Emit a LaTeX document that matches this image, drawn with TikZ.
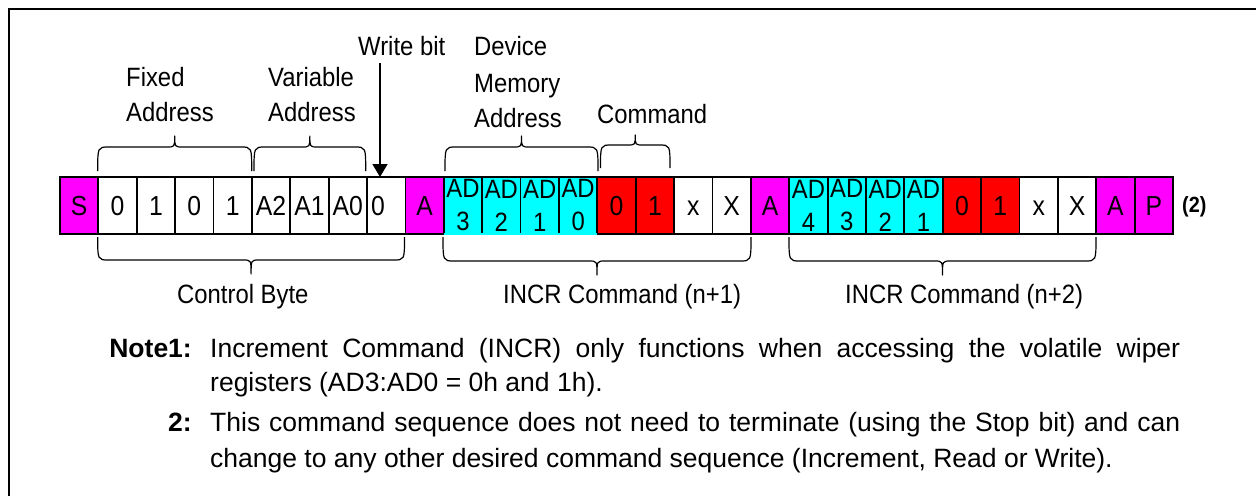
\documentclass[tikz,border=0pt]{standalone}
\usepackage{fontspec}
\setmainfont{Liberation Sans}
\newfontfamily\labfont{Liberation Sans}[FakeStretch=0.9]
\usetikzlibrary{arrows.meta}
\definecolor{mag}{RGB}{255,0,255}
\definecolor{cyn}{RGB}{0,255,255}
\definecolor{rd}{RGB}{255,0,0}
\newcommand\mybrace[5]{% x1 x2 yend yline ytip
  \draw[bracestyle] (#1,#3) .. controls (#1,#4) .. ({#1+11},#4) -- ({(#1+#2)/2-8},#4)
    .. controls ({(#1+#2)/2},#4) .. ({(#1+#2)/2},#5)
    .. controls ({(#1+#2)/2},#4) .. ({(#1+#2)/2+8},#4) -- ({#2-11},#4)
    .. controls (#2,#4) .. (#2,#3);}
\begin{document}
\begin{tikzpicture}[x=1pt,y=-1pt,
  cellbase/.style={draw=black, line width=1.8pt, minimum width=38.38pt, minimum height=57pt,
    inner sep=0pt, outer sep=0pt, anchor=north west},
  cell/.style={cellbase, font=\labfont\fontsize{27.5}{33}\selectfont, text height=19.5pt, text depth=0pt},
  mcell/.style={cell, fill=mag},
  rcell/.style={cell, fill=rd},
  wcell/.style={cell, text width=30pt, align=left},
  adcell/.style={cellbase, fill=cyn, align=center, font=\labfont\fontsize{26.5}{33}\selectfont},
  lab/.style={font=\labfont\fontsize{26.5}{31.8}\selectfont, inner sep=0pt, anchor=base west},
  note/.style={font=\fontsize{26.5}{31.8}\selectfont, inner sep=0pt, anchor=base west},
  notehead/.style={font=\bfseries\fontsize{26.5}{31.8}\selectfont, inner sep=0pt, anchor=base east},
  bracestyle/.style={line width=1.2pt, line join=round},
  wbarrow/.style={line width=1.5pt, -{Triangle[width=15pt,length=13pt]}}
]
\useasboundingbox (0,0) rectangle (1256,496);
% frame
\draw[line width=2pt] (9,496) -- (9,9) -- (1256,9);
% cells
\foreach \i/\t/\s in {0/S/mcell,1/0/cell,2/1/cell,3/0/cell,4/1/cell,5/A2/cell,6/A1/cell,7/A0/cell,
  8/0/wcell,9/A/mcell,14/0/rcell,15/1/rcell,16/x/cell,17/X/cell,18/A/mcell,
  23/0/rcell,24/1/rcell,25/x/cell,26/X/cell,27/A/mcell,28/P/mcell}
  \node[\s] (c\i) at ({60+\i*38.38},177) {\t};
\foreach \i/\d in {10/3,11/2,12/1,13/0,19/4,20/3,21/2,22/1}
  \node[adcell] (c\i) at ({60+\i*38.38},177) {AD\\\d};
\draw[cyn, line width=1.8pt] (c10.south west) -- (c13.south east);
% (2)
\node[font=\labfont\bfseries\fontsize{22}{26}\selectfont, inner sep=0pt, anchor=base west] (n2) at (1182,212) {(2)};
% top labels
\node[lab] (fx1) at (126,86) {Fixed};
\node[lab] (fx2) at (126,121) {Address};
\node[lab] (va1) at (268,86) {Variable};
\node[lab] (va2) at (268,121) {Address};
\node[lab] (wb) at (358,55) {Write bit};
\node[lab] (dm1) at (474,55) {Device};
\node[lab] (dm2) at (474,92) {Memory};
\node[lab] (dm3) at (474,127) {Address};
\node[lab] (cm) at (597,123) {Command};
% bottom labels
\node[lab] (cb) at (177,303) {Control Byte};
\node[lab] (ic1) at (503,303) {INCR Command (n+1)};
\node[lab] (ic2) at (845,303) {INCR Command (n+2)};
% write bit arrow
\coordinate (wtop) at (380,63);
\draw[wbarrow] (wtop) -- (wtop |- c8.north);
% braces
\mybrace{97.7}{251.7}{171}{147}{136}
\mybrace{254}{365.7}{171}{147}{136}
\mybrace{445}{598}{171}{147}{136}
\mybrace{600.5}{670}{168}{145}{135}
\mybrace{97.7}{404.5}{237}{260}{274}
\mybrace{443}{751}{237}{261}{275}
\mybrace{789}{1096}{237}{261}{275}
% notes
\node[notehead] (nh1) at (192,357) {Note1:};
\node[note] (n1a) at (210,357) {\makebox[970pt][s]{Increment Command (INCR) only functions when accessing the volatile wiper}};
\node[note] (n1b) at (210,391) {registers (AD3:AD0 = 0h and 1h).};
\node[notehead] (nh2) at (192,431) {2:};
\node[note] (n2a) at (210,431) {\makebox[970pt][s]{This command sequence does not need to terminate (using the Stop bit) and can}};
\node[note] (n2b) at (210,467) {change to any other desired command sequence (Increment, Read or Write).};
\end{tikzpicture}
\end{document}
